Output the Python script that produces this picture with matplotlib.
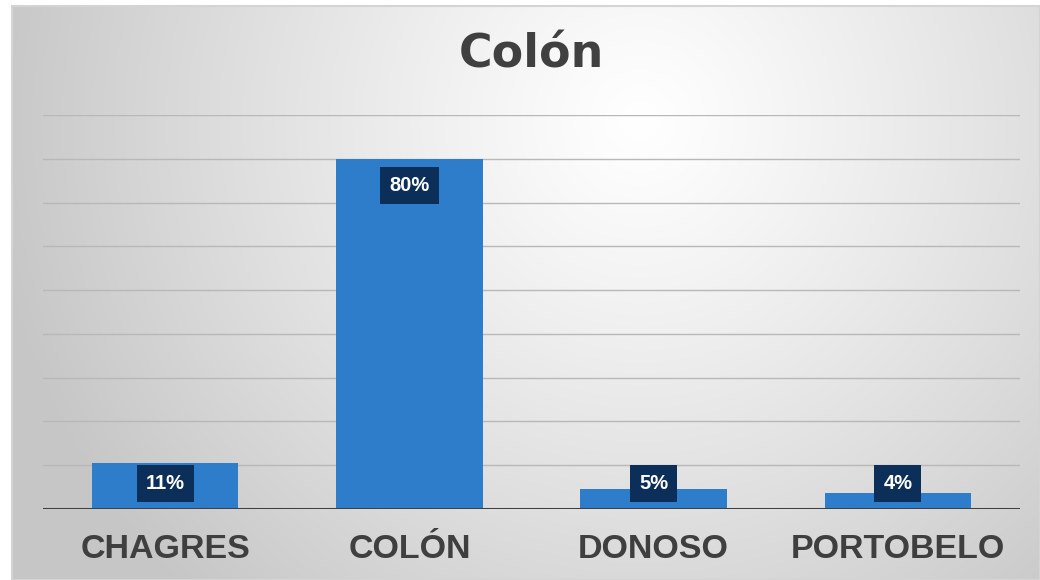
import numpy as np
import matplotlib.pyplot as plt
from matplotlib.patches import Rectangle

# data
categories = ['CHAGRES', 'COLÓN', 'DONOSO', 'PORTOBELO']
values = [10.6, 80.0, 4.6, 3.6]
labels = ['11%', '80%', '5%', '4%']

W, H = 1040, 580
fig = plt.figure(figsize=(W / 100, H / 100), dpi=100, facecolor='white')

# gradient background of the chart area
bg = fig.add_axes([12 / W, 0, (W - 12) / W, (H - 6) / H])
xx, yy = np.meshgrid(np.arange(12, W), np.arange(6, H))
d = np.sqrt(((xx - 640) / 650.0) ** 2 + ((yy - 120) / 650.0) ** 2)
shade = np.clip(1.0 - 0.22 * d ** 1.15, 0.78, 1.0)
bg.imshow(np.dstack([shade] * 3), aspect='auto', interpolation='bilinear')
bg.set_axis_off()
fig.patches.append(Rectangle((12 / W, 0), (W - 12) / W, (H - 6) / H, transform=fig.transFigure,
                             fill=False, edgecolor='#d4d4d4', lw=1.5))

ax = fig.add_axes([43 / W, (H - 509) / H, 977 / W, (509 - 115) / H])
ax.patch.set_alpha(0)
x = np.arange(len(categories))
ax.bar(x, values, width=0.6, color='#2E7DCB', zorder=3)
ax.set_xlim(-0.5, 3.5)
ax.set_ylim(0, 90)

for g in range(10, 100, 10):
    ax.axhline(g, color='#b8b8b8', lw=1, zorder=1)
ax.axhline(0, color='#404040', lw=2.2, zorder=4)

# data labels inside the bar top, kept above the axis for short bars
for xi, v, lab in zip(x, values, labels):
    ax.text(xi, max(v - 6.2, 5.9), lab, ha='center', va='center', color='white',
            fontsize=14.5, fontweight='bold', family='Liberation Sans', zorder=5,
            bbox=dict(boxstyle='square,pad=0.45', fc='#0C2F5A', ec='none'))

for s in ax.spines.values():
    s.set_visible(False)
ax.set_yticks([])
ax.set_xticks(x)
ax.set_xticklabels(categories, fontsize=24.5, fontweight='bold', family='Liberation Sans',
                   color='#3f3f3f')
ax.tick_params(axis='x', length=0, pad=18)

fig.text(531 / W, 1 - 55 / H, 'Colón', ha='center', va='center', fontsize=33,
         fontweight='bold', color='#404040')

fig.savefig('out.png', dpi=100, facecolor='white')
